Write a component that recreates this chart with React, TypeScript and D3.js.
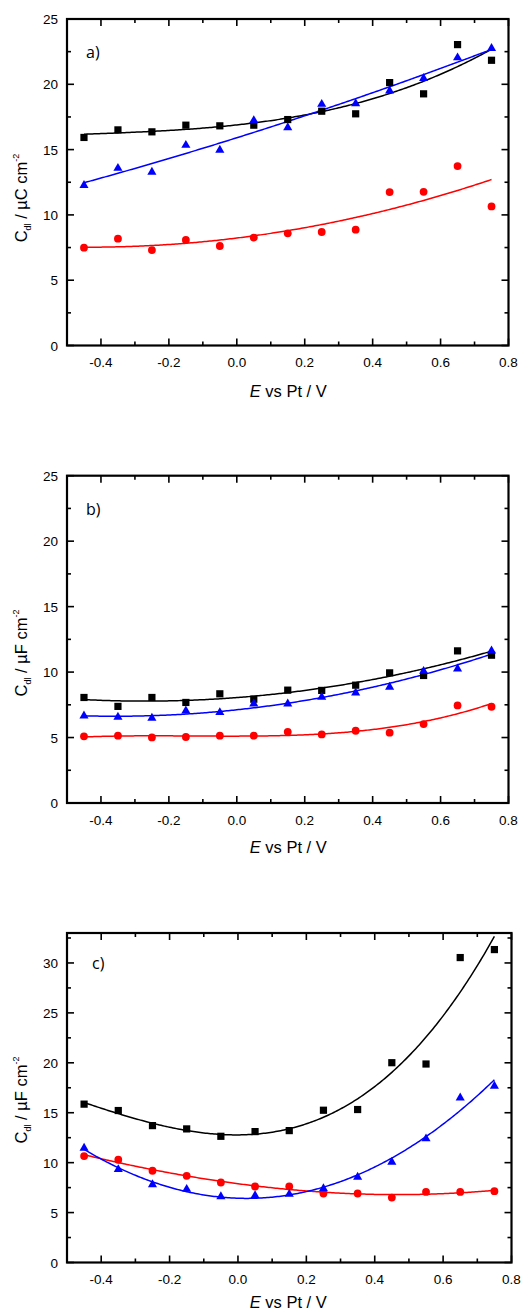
import React from "react";
import * as d3 from "d3";

// ---------- data ----------
const potentials = [-0.45, -0.35, -0.25, -0.15, -0.05, 0.05, 0.15, 0.25, 0.35, 0.45, 0.55, 0.65, 0.75];

const aBlack = [15.93, 16.51, 16.36, 16.87, 16.82, 16.87, 17.3, 17.94, 17.74, 20.13, 19.27, 23.04, 21.84];
const aBlue = [12.26, 13.58, 13.28, 15.34, 14.96, 17.23, 16.69, 18.48, 18.53, 19.5, 20.46, 22.04, 22.76];
const aRed = [7.49, 8.18, 7.31, 8.08, 7.62, 8.26, 8.59, 8.69, 8.87, 11.75, 11.77, 13.74, 10.65];

const bBlack = [8.06, 7.38, 8.06, 7.68, 8.34, 7.93, 8.62, 8.6, 9.0, 9.94, 9.74, 11.62, 11.29];
const bBlue = [6.66, 6.56, 6.49, 7.04, 6.92, 7.58, 7.58, 8.09, 8.42, 8.85, 10.07, 10.25, 11.62];
const bRed = [5.09, 5.14, 5.01, 5.04, 5.14, 5.14, 5.44, 5.24, 5.52, 5.37, 6.03, 7.45, 7.35];

const cBlack = [15.86, 15.22, 13.71, 13.38, 12.64, 13.11, 13.21, 15.25, 15.32, 20.01, 19.88, 30.54, 31.34];
const cBlue = [11.46, 9.32, 7.81, 7.34, 6.6, 6.7, 6.84, 7.41, 8.55, 10.06, 12.4, 16.49, 17.67];
const cRed = [10.66, 10.29, 9.19, 8.68, 8.01, 7.61, 7.61, 6.91, 6.91, 6.5, 7.07, 7.07, 7.14];

const xMajorTicks = [-0.4, -0.2, 0.0, 0.2, 0.4, 0.6, 0.8];
const xTickLabels = ["-0.4", "-0.2", "0.0", "0.2", "0.4", "0.6", "0.8"];
const xMinorTicks = [-0.3, -0.1, 0.1, 0.3, 0.5, 0.7];
const yTicksAB = [0, 5, 10, 15, 20, 25];
const yMinorAB = [2.5, 7.5, 12.5, 17.5, 22.5];
const yTicksC = [0, 5, 10, 15, 20, 25, 30];
const yMinorC = [2.5, 7.5, 12.5, 17.5, 22.5, 27.5, 32.5];
const panelLabels = ["a)", "b)", "c)"];
const unitLetters = ["C", "F", "F"];

const FONT = "'Liberation Sans', Arial, sans-serif";

// least-squares polynomial fit
function polyFit(xs: number[], ys: number[], deg: number): number[] {
  const n = deg + 1;
  const A: number[][] = Array.from({ length: n }, () => new Array(n + 1).fill(0));
  for (let k = 0; k < xs.length; k++) {
    for (let i = 0; i < n; i++) {
      for (let j = 0; j < n; j++) A[i][j] += Math.pow(xs[k], i + j);
      A[i][n] += ys[k] * Math.pow(xs[k], i);
    }
  }
  for (let i = 0; i < n; i++) {
    let p = i;
    for (let r = i + 1; r < n; r++) if (Math.abs(A[r][i]) > Math.abs(A[p][i])) p = r;
    [A[i], A[p]] = [A[p], A[i]];
    for (let r = 0; r < n; r++) {
      if (r === i) continue;
      const f = A[r][i] / A[i][i];
      for (let c = i; c <= n; c++) A[r][c] -= f * A[i][c];
    }
  }
  return A.map((row, i) => row[n] / row[i]);
}
const evalPoly = (c: number[], x: number) => c.reduce((s, ci, i) => s + ci * Math.pow(x, i), 0);

type Series = { values: number[]; color: string; shape: "square" | "circle" | "triangle"; deg: number };

type PanelCfg = {
  label: string;
  unit: string;
  series: Series[];
  yMax: number;
  yTicks: number[];
  yMinor: number[];
  x0: number; x1: number; y0: number; y1: number;
  labelPos: [number, number];
  yLabelCenter: number;
  tickLabelY: number;
  titleY: number;
};

const panels: PanelCfg[] = [
  {
    label: panelLabels[0], unit: unitLetters[0],
    series: [
      { values: aBlack, color: "#000000", shape: "square", deg: 3 },
      { values: aRed, color: "#ff0000", shape: "circle", deg: 2 },
      { values: aBlue, color: "#0000ff", shape: "triangle", deg: 2 },
    ],
    yMax: 25, yTicks: yTicksAB, yMinor: yMinorAB,
    x0: 67, x1: 508.5, y0: 19, y1: 345.5,
    labelPos: [86, 58], yLabelCenter: 198, tickLabelY: 367, titleY: 397,
  },
  {
    label: panelLabels[1], unit: unitLetters[1],
    series: [
      { values: bBlack, color: "#000000", shape: "square", deg: 2 },
      { values: bRed, color: "#ff0000", shape: "circle", deg: 3 },
      { values: bBlue, color: "#0000ff", shape: "triangle", deg: 2 },
    ],
    yMax: 25, yTicks: yTicksAB, yMinor: yMinorAB,
    x0: 67, x1: 508.5, y0: 475.7, y1: 803,
    labelPos: [86, 515], yLabelCenter: 653, tickLabelY: 825, titleY: 853,
  },
  {
    label: panelLabels[2], unit: unitLetters[2],
    series: [
      { values: cBlack, color: "#000000", shape: "square", deg: 3 },
      { values: cRed, color: "#ff0000", shape: "circle", deg: 3 },
      { values: cBlue, color: "#0000ff", shape: "triangle", deg: 3 },
    ],
    yMax: 33, yTicks: yTicksC, yMinor: yMinorC,
    x0: 67, x1: 511.5, y0: 933, y1: 1262.5,
    labelPos: [92, 969], yLabelCenter: 1100, tickLabelY: 1284, titleY: 1308,
  },
];

const triPath = d3.symbol(d3.symbolTriangle, 36)() as string;

function Panel({ cfg, idx }: { cfg: PanelCfg; idx: number }) {
  const x = d3.scaleLinear().domain([-0.5, 0.8]).range([cfg.x0, cfg.x1]);
  const y = d3.scaleLinear().domain([0, cfg.yMax]).range([cfg.y1, cfg.y0]);
  const MAJ = 7, MIN = 4;
  const fitX = d3.range(0, 241).map((i) => potentials[0] + (i / 240) * (potentials[potentials.length - 1] - potentials[0]));
  const clipId = `clip${idx}`;
  return (
    <g>
      <defs>
        <clipPath id={clipId}>
          <rect x={cfg.x0} y={cfg.y0} width={cfg.x1 - cfg.x0} height={cfg.y1 - cfg.y0} />
        </clipPath>
      </defs>
      {/* fit lines */}
      <g clipPath={`url(#${clipId})`}>
        {cfg.series.map((s, i) => {
          const coef = polyFit(potentials, s.values, s.deg);
          const line = d3.line<number>().x((d) => x(d)).y((d) => y(evalPoly(coef, d)));
          return <path key={i} d={line(fitX) as string} fill="none" stroke={s.color} strokeWidth={1.5} />;
        })}
      </g>
      {/* markers */}
      {cfg.series.map((s, i) => (
        <g key={i} fill={s.color}>
          {s.values.map((v, j) => {
            const cx = x(potentials[j]);
            const cy = y(v);
            if (s.shape === "square") return <rect key={j} x={cx - 3.6} y={cy - 3.6} width={7.2} height={7.2} />;
            if (s.shape === "circle") return <circle key={j} cx={cx} cy={cy} r={3.9} />;
            return <path key={j} d={triPath} transform={`translate(${cx},${cy})`} />;
          })}
        </g>
      ))}
      {/* ticks */}
      <g stroke="#000" strokeWidth={1.6}>
        {xMajorTicks.map((t) => (
          <g key={`xm${t}`}>
            <line x1={x(t)} x2={x(t)} y1={cfg.y1} y2={cfg.y1 - MAJ} />
            <line x1={x(t)} x2={x(t)} y1={cfg.y0} y2={cfg.y0 + MAJ} />
          </g>
        ))}
        {xMinorTicks.map((t) => (
          <g key={`xn${t}`}>
            <line x1={x(t)} x2={x(t)} y1={cfg.y1} y2={cfg.y1 - MIN} />
            <line x1={x(t)} x2={x(t)} y1={cfg.y0} y2={cfg.y0 + MIN} />
          </g>
        ))}
        {cfg.yTicks.map((t) => (
          <g key={`ym${t}`}>
            <line x1={cfg.x0} x2={cfg.x0 + MAJ} y1={y(t)} y2={y(t)} />
            <line x1={cfg.x1} x2={cfg.x1 - MAJ} y1={y(t)} y2={y(t)} />
          </g>
        ))}
        {cfg.yMinor.map((t) => (
          <g key={`yn${t}`}>
            <line x1={cfg.x0} x2={cfg.x0 + MIN} y1={y(t)} y2={y(t)} />
            <line x1={cfg.x1} x2={cfg.x1 - MIN} y1={y(t)} y2={y(t)} />
          </g>
        ))}
      </g>
      {/* frame */}
      <rect x={cfg.x0} y={cfg.y0} width={cfg.x1 - cfg.x0} height={cfg.y1 - cfg.y0} fill="none" stroke="#000" strokeWidth={2.2} />
      {/* tick labels */}
      <g fontFamily={FONT} fontSize={13.5} fill="#000">
        {xMajorTicks.map((t, i) => (
          <text key={`xl${t}`} x={x(t)} y={cfg.tickLabelY} textAnchor="middle">{xTickLabels[i]}</text>
        ))}
        {cfg.yTicks.map((t) => (
          <text key={`yl${t}`} x={cfg.x0 - 9} y={y(t) + 5} textAnchor="end">{String(t)}</text>
        ))}
      </g>
      {/* axis titles */}
      <text x={(cfg.x0 + 508.5) / 2 + 0.5} y={cfg.titleY} textAnchor="middle" fontFamily={FONT} fontSize={16.5} fill="#000">
        <tspan fontStyle="italic">E</tspan>
        <tspan> vs Pt / V</tspan>
      </text>
      <text
        transform={`translate(27,${cfg.yLabelCenter}) rotate(-90)`}
        textAnchor="middle"
        fontFamily={FONT}
        fontSize={16.5}
        fill="#000"
      >
        <tspan>C</tspan>
        <tspan fontSize={9} dy={4}>dl</tspan>
        <tspan dy={-4}>{` / \u00b5${cfg.unit} cm`}</tspan>
        <tspan fontSize={9} dy={-8}>-2</tspan>
      </text>
      {/* panel label */}
      <text x={cfg.labelPos[0]} y={cfg.labelPos[1]} fontFamily="'Open Sans', sans-serif" fontSize={16} fill="#000">
        {cfg.label}
      </text>
    </g>
  );
}

export default function App() {
  return (
    <svg
      width={525}
      height={1310}
      viewBox="0 0 525 1310"
      style={{ position: "absolute", left: 0, top: 0, display: "block", background: "#fff" }}
    >
      <rect x={0} y={0} width={525} height={1310} fill="#fff" />
      {panels.map((p, i) => (
        <Panel key={i} cfg={p} idx={i} />
      ))}
    </svg>
  );
}
